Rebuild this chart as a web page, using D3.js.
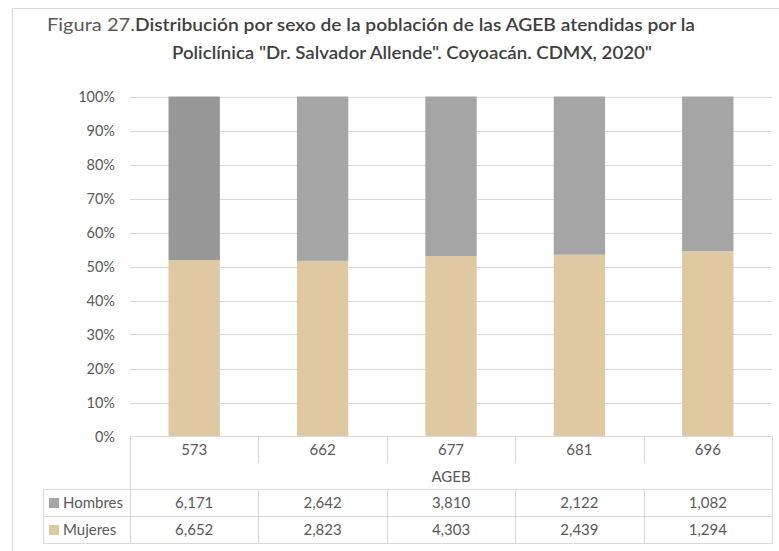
<!DOCTYPE html>
<html>
<head>
<meta charset="utf-8">
<script src="https://cdn.jsdelivr.net/npm/d3@7"></script>
<style>
  html, body { margin: 0; padding: 0; background: #fff; }
  svg { display: block; font-family: Lato, "Open Sans", sans-serif; }
</style>
</head>
<body>
<svg id="chart" width="779" height="551"></svg>
<script>
// Population by sex for each AGEB
const categories = ["573", "662", "677", "681", "696"];
const hombres = [6171, 2642, 3810, 2122, 1082];
const mujeres = [6652, 2823, 4303, 2439, 1294];
const yTicks = [0, 0.1, 0.2, 0.3, 0.4, 0.5, 0.6, 0.7, 0.8, 0.9, 1];
const seriesNames = ["Hombres", "Mujeres"];
const axisTitle = "AGEB";
const titlePrefix = "Figura 27.";
const titleLine1 = "Distribución por sexo de la población de las AGEB atendidas por la";
const titleLine2 = "Policlínica \"Dr. Salvador Allende\". Coyoacán. CDMX, 2020\"";

const colors = { Hombres: "#a5a5a5", Mujeres: "#dfc9a2" };
const firstHombresColor = "#979797";
const lineColor = "#d9d9d9";
const textColor = "#595959";

const svg = d3.select("#chart");

// outer chart frame
svg.append("path")
  .attr("d", "M12.5,551 V8.5 H779")
  .attr("fill", "none").attr("stroke", lineColor);

// title
svg.append("text").attr("x", 47).attr("y", 31)
  .attr("font-size", 17).attr("fill", textColor)
  .attr("textLength", 88).attr("lengthAdjust", "spacingAndGlyphs")
  .text(titlePrefix);
svg.append("text").attr("x", 135).attr("y", 31)
  .attr("font-size", 17).attr("font-weight", 600).attr("fill", "#404040")
  .attr("textLength", 560).attr("lengthAdjust", "spacingAndGlyphs")
  .text(titleLine1);
svg.append("text").attr("x", 172).attr("y", 59)
  .attr("font-size", 17).attr("font-weight", 600).attr("fill", "#404040")
  .attr("textLength", 480).attr("lengthAdjust", "spacingAndGlyphs")
  .text(titleLine2);

// plot geometry
const plotL = 130, plotR = 772, plotT = 96.5, plotB = 436.5;
const tableLeft = 43;
const rowCat = [436.5, 463], rowAxis = [463, 489.5], rowH = [489.5, 516.5], rowM = [516.5, 543.5];

const x = d3.scaleBand().domain(categories).range([plotL, plotR])
  .paddingInner(0.6).paddingOuter(0.3);
const y = d3.scaleLinear().domain([0, 1]).range([plotB, plotT]);

// gridlines
svg.append("g").selectAll("line").data(yTicks.slice(1)).join("line")
  .attr("x1", plotL).attr("x2", plotR)
  .attr("y1", d => Math.round(y(d)) + 0.5).attr("y2", d => Math.round(y(d)) + 0.5)
  .attr("stroke", lineColor);

// y axis labels
const yAxis = d3.axisLeft(y).tickValues(yTicks).tickFormat(d3.format(".0%")).tickSize(0).tickPadding(15);
const gy = svg.append("g").attr("transform", `translate(${plotL},0)`).call(yAxis);
gy.select(".domain").remove();
gy.selectAll("text").attr("font-size", 14.5).attr("fill", textColor)
  .attr("font-family", "Lato, sans-serif").attr("dy", "0.35em");

// stacked percentage bars
const rows = categories.map((c, i) => {
  const total = hombres[i] + mujeres[i];
  return { cat: c, Mujeres: mujeres[i] / total, Hombres: hombres[i] / total, i };
});
const stack = d3.stack().keys(["Mujeres", "Hombres"])(rows);
svg.append("g").selectAll("g").data(stack).join("g")
  .selectAll("rect").data(s => s.map(d => ({ key: s.key, d })))
  .join("rect")
  .attr("x", v => x(v.d.data.cat))
  .attr("width", x.bandwidth())
  .attr("y", v => y(v.d[1]))
  .attr("height", v => y(v.d[0]) - y(v.d[1]))
  .attr("fill", v => (v.key === "Hombres" && v.d.data.i === 0) ? firstHombresColor : colors[v.key]);

// data table
const tbl = svg.append("g").attr("stroke", lineColor).attr("fill", "none");
const hline = (x1, x2, yy) => tbl.append("line").attr("x1", x1).attr("x2", x2).attr("y1", yy).attr("y2", yy);
const vline = (xx, y1, y2) => tbl.append("line").attr("x1", xx).attr("x2", xx).attr("y1", y1).attr("y2", y2);

hline(plotL, plotR, rowCat[0]);
hline(tableLeft, plotR, rowH[0]);
hline(tableLeft, plotR, rowM[0]);
hline(tableLeft, plotR, rowM[1]);
const bounds = [plotL].concat(categories.map(c => x(c) - x.step() * x.paddingInner() / 2 + x.step()));
bounds[bounds.length - 1] = plotR;
bounds.forEach((bx, k) => {
  const xx = Math.round(bx) + 0.5;
  if (k === 0 || k === bounds.length - 1) vline(xx, rowCat[0], rowM[1]);
  else {
    vline(xx, rowCat[0], rowCat[1]);
    vline(xx, rowH[0], rowM[1]);
  }
});
vline(tableLeft + 0.5, rowH[0], rowM[1]);

const tText = svg.append("g").attr("fill", textColor).attr("font-size", 15).attr("text-anchor", "middle");
const cx = c => x(c) + x.bandwidth() / 2;
const fmt = d3.format(",");
tText.selectAll(".cat").data(categories).join("text")
  .attr("x", cx).attr("y", (rowCat[0] + rowCat[1]) / 2).attr("dy", "0.35em").text(d => d);
tText.append("text").attr("x", (plotL + plotR) / 2).attr("y", (rowAxis[0] + rowAxis[1]) / 2)
  .attr("dy", "0.35em").text(axisTitle);
tText.selectAll(".h").data(hombres).join("text")
  .attr("x", (d, i) => cx(categories[i])).attr("y", (rowH[0] + rowH[1]) / 2).attr("dy", "0.35em").text(fmt);
tText.selectAll(".m").data(mujeres).join("text")
  .attr("x", (d, i) => cx(categories[i])).attr("y", (rowM[0] + rowM[1]) / 2).attr("dy", "0.35em").text(fmt);

// legend keys in the table
[rowH, rowM].forEach((r, k) => {
  const name = seriesNames[k];
  const my = (r[0] + r[1]) / 2;
  svg.append("rect").attr("x", 49).attr("y", my - 5).attr("width", 10).attr("height", 10)
    .attr("fill", colors[name]);
  svg.append("text").attr("x", 63).attr("y", my).attr("dy", "0.35em")
    .attr("font-size", 15).attr("fill", textColor).text(name);
});
</script>
</body>
</html>
